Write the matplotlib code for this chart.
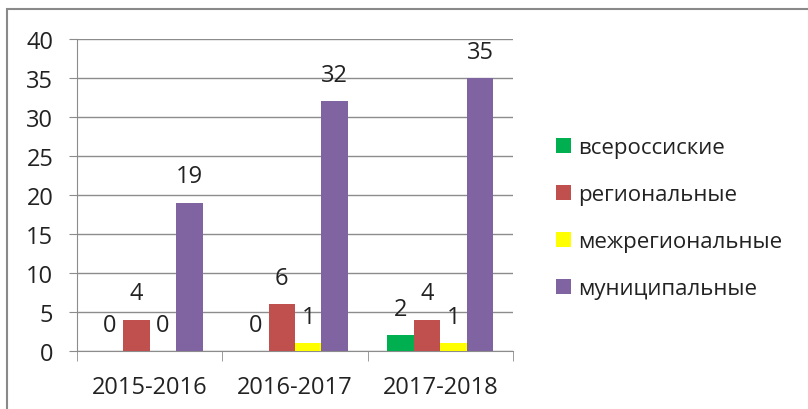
import matplotlib.pyplot as plt
import numpy as np
from matplotlib.patches import Rectangle

plt.rcParams['font.family'] = ['Open Sans', 'DejaVu Sans']

years = ["2015-2016", "2016-2017", "2017-2018"]
series_names = ["всероссиские", "региональные", "межрегиональные", "муниципальные"]
vseross = [0, 0, 2]
region = [4, 6, 4]
mezhreg = [0, 1, 1]
munic = [19, 32, 35]
colors = ["#00B050", "#C0504D", "#FFFF00", "#8064A2"]

fig = plt.figure(figsize=(8.08, 4.10), dpi=100)
ax = fig.add_axes([77 / 808, 58 / 410, 436 / 808, 312 / 410])

# outer chart frame
fig.patches.append(Rectangle((7 / 808, -0.2), 2.0, 1.2 - 10 / 410,
                             transform=fig.transFigure, fill=False,
                             edgecolor="#8a8a8a", linewidth=1.5))

x = np.arange(len(years))
w = 0.182
fs = 17
for k, (name, vals, c) in enumerate(zip(series_names, [vseross, region, mezhreg, munic], colors)):
    pos = x + (k - 1.5) * w
    ax.bar(pos, vals, width=w, color=c, label=name, zorder=3)
    for px, v in zip(pos, vals):
        ax.annotate(str(v), (px, v), xytext=(0, 19), textcoords="offset points",
                    ha="center", va="center", fontsize=fs, color="#222222")

ax.set_ylim(0, 40)
ax.set_xlim(-0.5, 2.5)
ax.set_yticks(range(0, 41, 5))
ax.yaxis.grid(True, color="#8c8c8c", linewidth=1)
ax.set_axisbelow(True)
for s in ["top", "right"]:
    ax.spines[s].set_visible(False)
for s in ["left", "bottom"]:
    ax.spines[s].set_color("#8c8c8c")
ax.set_xticks(x)
ax.set_xticklabels(years)
ax.set_xticks([-0.5, 0.5, 1.5, 2.5], minor=True)
ax.tick_params(axis="x", which="major", length=0, pad=17, labelsize=fs, labelcolor="#222222")
ax.tick_params(axis="x", which="minor", length=7, color="#8c8c8c")
ax.tick_params(axis="y", length=6, color="#8c8c8c", pad=11, labelsize=fs, labelcolor="#222222")

fig.legend(loc="center left", bbox_to_anchor=(556 / 808, 1 - 219 / 410), frameon=False,
           fontsize=16, handlelength=0.68, handleheight=0.68, handletextpad=0.3,
           labelspacing=1.17, borderpad=0, borderaxespad=0, labelcolor="#222222")

fig.savefig("out.png", dpi=100)
